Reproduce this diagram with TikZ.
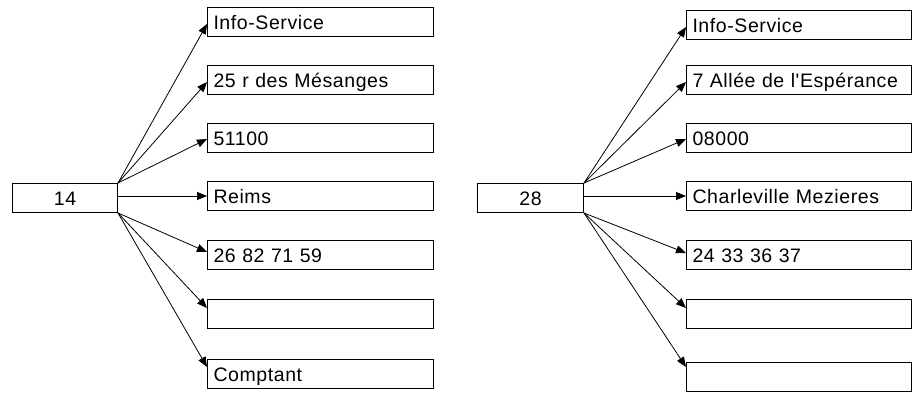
\documentclass[tikz,border=0pt]{standalone}
\usepackage{fontspec}
\setmainfont{Liberation Sans}
\newfontfamily\labfont[LetterSpace=3]{Liberation Sans}
\usetikzlibrary{arrows.meta,calc}
\tikzset{
  lab/.style={font=\labfont\fontsize{19.5pt}{20pt}\selectfont, text height=14pt, text depth=0pt},
  tbox/.style={lab, draw, line width=1pt, anchor=north west, minimum height=29pt,
     inner ysep=0pt, inner xsep=6pt, text width=214pt, align=left},
  rbox/.style={tbox, text width=213pt},
  sbox/.style={lab, draw, line width=1pt, anchor=north west, minimum height=29pt,
     minimum width=105pt, inner sep=0pt, align=center},
  arr/.style={line width=0.8pt, -{Triangle[length=10pt,width=8pt]}}
}
\begin{document}
\begin{tikzpicture}[x=1pt,y=1pt]
\useasboundingbox (0,0) rectangle (912,-394);
% left group
\node[sbox] (s1) at (12,-183) {14};
\node[tbox] (l1) at (207,-7) {Info-Service};
\node[tbox] (l2) at (207,-65) {25 r des Mésanges};
\node[tbox] (l3) at (207,-123) {51100};
\node[tbox] (l4) at (207,-181) {Reims};
\node[tbox] (l5) at (207,-240) {26 82 71 59};
\node[tbox] (l6) at (207,-299) {};
\node[tbox] (l7) at (207,-359) {Comptant};
\draw[arr] (s1.north east) -- ($(l1.north west)+(0,-17)$);
\draw[arr] (s1.north east) -- ($(l2.north west)+(0,-17)$);
\draw[arr] (s1.north east) -- ($(l3.north west)+(0,-16)$);
\draw[arr] ($(s1.north east)+(0,-13)$) -- ($(l4.north west)+(0,-15)$);
\draw[arr] (s1.south east) -- ($(l5.north west)+(0,-12)$);
\draw[arr] (s1.south east) -- ($(l6.north west)+(0,-9)$);
\draw[arr] (s1.south east) -- ($(l7.north west)+(0,-8)$);
% right group
\node[sbox, minimum width=106pt] (s2) at (477,-183) {28};
\node[rbox] (r1) at (686,-10) {Info-Service};
\node[rbox] (r2) at (686,-65) {7 Allée de l'Espérance};
\node[rbox] (r3) at (686,-123) {08000};
\node[rbox] (r4) at (686,-181) {Charleville Mezieres};
\node[rbox] (r5) at (686,-240) {24 33 36 37};
\node[rbox] (r6) at (686,-299) {};
\node[rbox] (r7) at (686,-362) {};
\draw[arr] (s2.north east) -- ($(r1.north west)+(0,-17)$);
\draw[arr] (s2.north east) -- ($(r2.north west)+(0,-17)$);
\draw[arr] (s2.north east) -- ($(r3.north west)+(0,-16)$);
\draw[arr] ($(s2.north east)+(0,-13)$) -- ($(r4.north west)+(0,-15)$);
\draw[arr] (s2.south east) -- ($(r5.north west)+(0,-13)$);
\draw[arr] (s2.south east) -- ($(r6.north west)+(0,-9)$);
\draw[arr] (s2.south east) -- ($(r7.north west)+(0,-5)$);
\end{tikzpicture}
\end{document}
